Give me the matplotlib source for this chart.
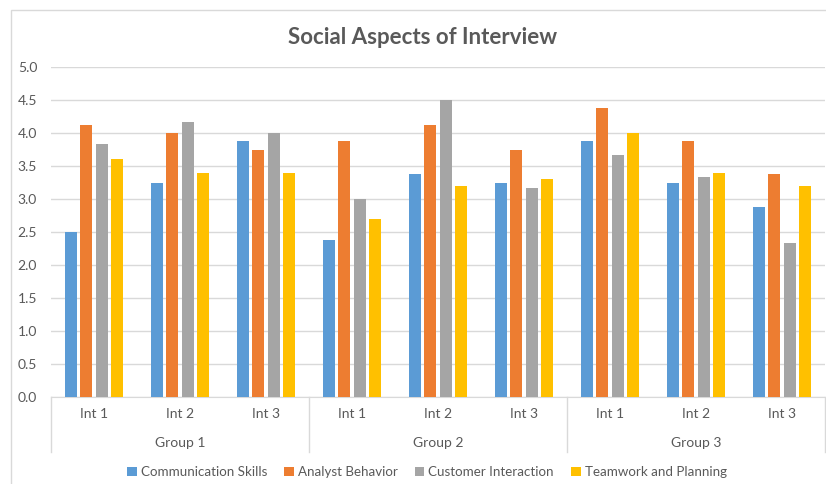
import matplotlib.pyplot as plt
import numpy as np
from matplotlib.patches import Rectangle
from matplotlib.lines import Line2D

plt.rcParams['font.family'] = ['Lato', 'DejaVu Sans']

groups = ['Group 1', 'Group 2', 'Group 3']
interviews = ['Int 1', 'Int 2', 'Int 3']
series = ['Communication Skills', 'Analyst Behavior', 'Customer Interaction', 'Teamwork and Planning']
colors = ['#5b9bd5', '#ed7d31', '#a5a5a5', '#ffc000']

communication = [2.5, 3.25, 3.875, 2.375, 3.375, 3.25, 3.875, 3.25, 2.875]
analyst = [4.125, 4.0, 3.75, 3.875, 4.125, 3.75, 4.375, 3.875, 3.375]
customer = [3.83, 4.17, 4.0, 3.0, 4.5, 3.17, 3.67, 3.33, 2.33]
teamwork = [3.6, 3.4, 3.4, 2.7, 3.2, 3.3, 4.0, 3.4, 3.2]

values = [communication, analyst, customer, teamwork]
grey = '#595959'

fig = plt.figure(figsize=(8.26, 4.84), dpi=100)
ax = fig.add_axes([51 / 826, 1 - 397 / 484, 774 / 826, 330 / 484])

x = np.arange(len(communication))
step = 0.178
width = 0.14
for i, (vals, c) in enumerate(zip(values, colors)):
    ax.bar(x + (i - 1.5) * step, vals, width, color=c, label=series[i], zorder=3)

ax.set_xlim(-0.5, 8.5)
ax.set_ylim(0, 5)
ax.set_yticks(np.arange(0, 5.01, 0.5))
ax.set_yticklabels([f'{v:.1f}' for v in np.arange(0, 5.01, 0.5)], color=grey, fontsize=10)
ax.tick_params(axis='y', length=0, pad=10)
ax.grid(axis='y', color='#d9d9d9', linewidth=1, zorder=0)
for s in ['top', 'right', 'left']:
    ax.spines[s].set_visible(False)
ax.spines['bottom'].set_color('#d9d9d9')

# two-level category axis
ax.set_xticks([])
trans = ax.get_xaxis_transform()
for j, lab in enumerate(interviews * 3):
    ax.text(j, -0.05, lab, transform=trans, ha='center', va='center', color=grey, fontsize=10)
for g, lab in enumerate(groups):
    ax.text(g * 3 + 1, -0.138, lab, transform=trans, ha='center', va='center', color=grey, fontsize=10)
for b in [-0.5, 2.5, 5.5, 8.5]:
    ax.add_line(Line2D([b, b], [0, -55 / 330], transform=trans, color='#d9d9d9', lw=1, clip_on=False))

fig.text(423 / 826, 1 - 37 / 484, 'Social Aspects of Interview', ha='center', va='center',
         fontsize=16, fontweight='bold', color=grey)

fig.legend(loc='center', bbox_to_anchor=(427 / 826, 1 - 472 / 484), ncol=4, frameon=False,
           fontsize=9.6, labelcolor=grey, handlelength=0.7, handleheight=0.7,
           handletextpad=0.3, columnspacing=1.3)

fig.patches.append(Rectangle((11 / 826, -0.1), 1, 1 - 10 / 484 + 0.1, transform=fig.transFigure,
                             fill=False, edgecolor='#d9d9d9', lw=1))

fig.savefig('out.png', dpi=100)
